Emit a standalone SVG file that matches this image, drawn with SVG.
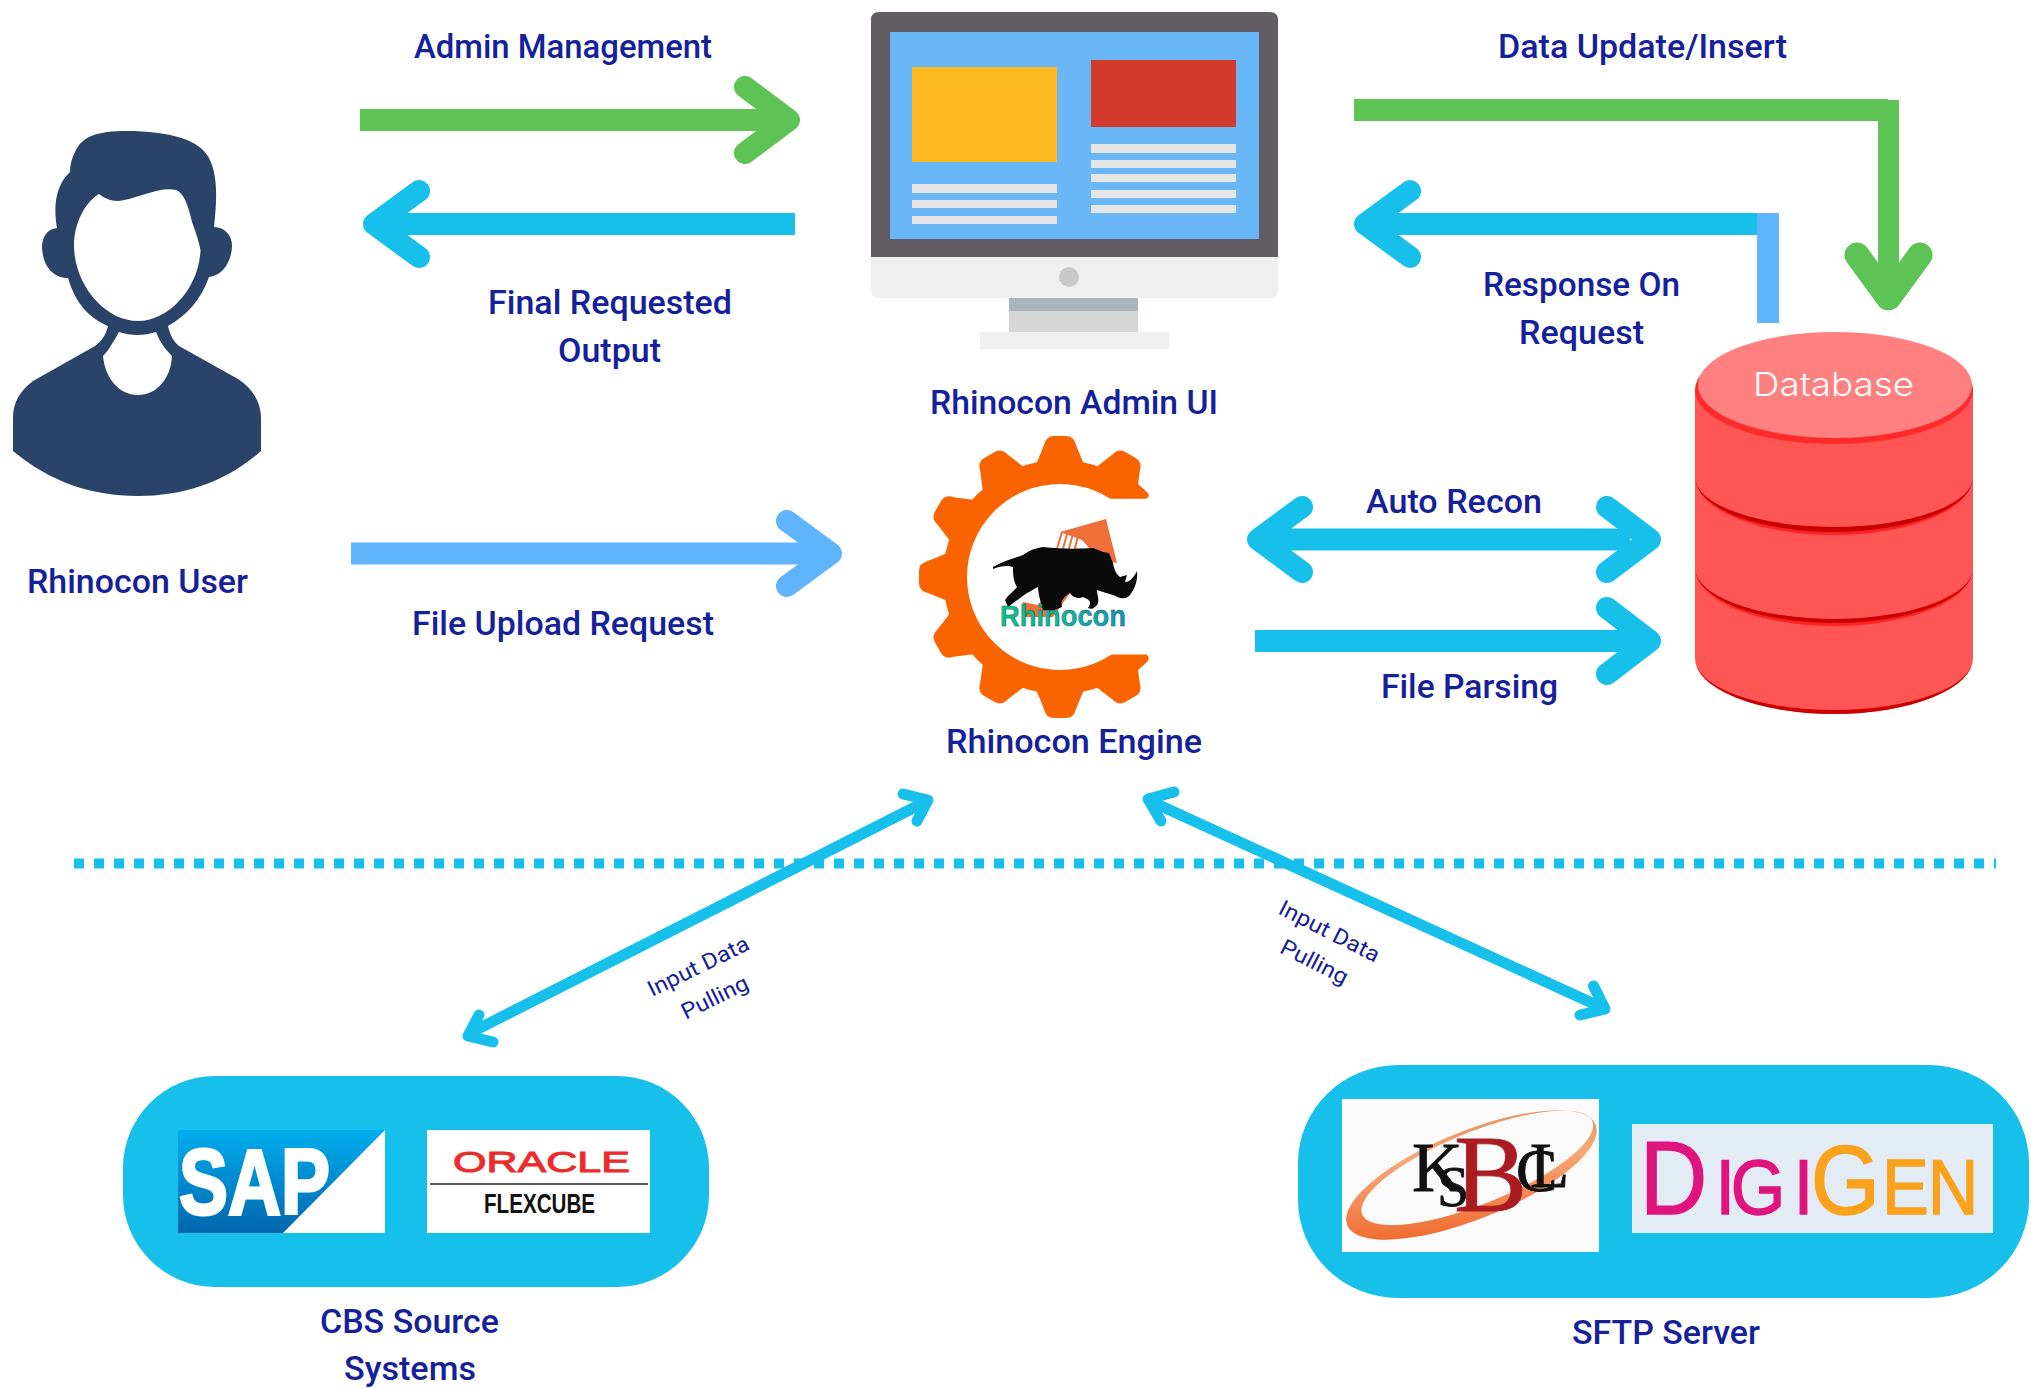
<svg xmlns="http://www.w3.org/2000/svg" width="2031" height="1388" viewBox="0 0 2031 1388">
<style>
.lbl{font-family:"Roboto","Liberation Sans",sans-serif;font-weight:500;font-size:33px;fill:#14219a;transform:translateY(1px)}
.sm{font-family:"Roboto","Liberation Sans",sans-serif;font-size:22px;fill:#14219a;text-anchor:middle}
.s{fill:none;stroke-linecap:butt}
.h{fill:none;stroke-linecap:round;stroke-linejoin:round}
.g{stroke:#5ec355}.c{stroke:#16c0ea}.b{stroke:#5fb4fb}
.w22{stroke-width:22}.w11{stroke-width:11}
.bar{fill:#e6e6e6}
.pill{fill:#16c0ea}
.gear{fill:#f96400}
</style>
<defs>
<path id="tooth" class="gear" d="M-25,-110 L-16,-132 Q-14,-141 -6,-141 L6,-141 Q14,-141 16,-132 L25,-110 Z"/>
<linearGradient id="sapG" x1="0" y1="0" x2="0" y2="1"><stop offset="0" stop-color="#00aeef"/><stop offset="1" stop-color="#0066ad"/></linearGradient>
<linearGradient id="rhG" x1="0" y1="0" x2="1" y2="0"><stop offset="0" stop-color="#09c285"/><stop offset="0.55" stop-color="#0bb6a0"/><stop offset="1" stop-color="#1193c4"/></linearGradient>
<linearGradient id="swG" x1="0" y1="1" x2="1" y2="0"><stop offset="0" stop-color="#ee5a1a"/><stop offset="0.6" stop-color="#f6a878"/><stop offset="1" stop-color="#d98a55"/></linearGradient>
<clipPath id="gearClip"><rect x="900" y="420" width="249" height="320"/></clipPath>
</defs>

<g id="user">
<path fill="#2a4369" fill-rule="evenodd" d="M126,131 C98,131 82,136 75,152 C72,158 70,164 70,172 C56,185 53,205 57,228 C46,229 42,238 42,248 C43,265 52,278 68,278 C76,305 90,318 108,326 C106,335 101,342 95,346 L33,381 C20,391 13,402 13,418 L13,451 C50,482 92,496 138,496 C184,496 226,482 261,451 L261,418 C261,402 252,388 238,379 L179,346 C174,342 170,335 168,326 C186,316 201,300 209,277 C222,276 232,262 232,245 C232,236 225,227 214,227 C217,200 218,175 209,158 C200,140 170,131 126,131 Z
M99,194 C108,201 116,202 124,200 C140,197 162,186 176,190 C184,193 188,205 192,222 C197,236 200,245 200.5,251 C198,290 168,321 138,321 C105,321 74,285 74,245 C74,225 84,203 99,194 Z
M119,332 C113,342 109,350 103,356 C105,378 119,395 138,395 C157,395 171,378 172,356 C165,349 160,342 156,332 C143,336 131,336 119,332 Z"/>
<text class="lbl" x="27" y="592" textLength="221" lengthAdjust="spacingAndGlyphs">Rhinocon User</text>
</g>

<g id="admin-ui">
<path fill="#625d63" d="M871,257 V20 Q871,12 879,12 H1270 Q1278,12 1278,20 V257 Z"/>
<rect x="890" y="32" width="369" height="207" fill="#69b7f7"/>
<rect x="912" y="67" width="145" height="95" fill="#fdba21"/>
<rect x="1091" y="60" width="145" height="67" fill="#d33a2c"/>
<rect class="bar" x="912" y="184" width="145" height="9"/>
<rect class="bar" x="912" y="200" width="145" height="8"/>
<rect class="bar" x="912" y="216" width="145" height="8"/>
<rect class="bar" x="1091" y="144" width="145" height="9"/>
<rect class="bar" x="1091" y="160" width="145" height="8"/>
<rect class="bar" x="1091" y="174" width="145" height="8"/>
<rect class="bar" x="1091" y="190" width="145" height="8"/>
<rect class="bar" x="1091" y="205" width="145" height="8"/>
<path fill="#efefef" d="M871,257 H1278 V290 Q1278,298 1270,298 H879 Q871,298 871,290 Z"/>
<ellipse cx="1069" cy="277" rx="10" ry="10" fill="#c8c8c8"/>
<rect x="1009" y="298" width="129" height="13" fill="#a7b5bc"/>
<rect x="1009" y="311" width="129" height="21" fill="#d6d6d6"/>
<rect x="980" y="332" width="189" height="17" fill="#efefef"/>
<text class="lbl" x="930" y="413" textLength="288" lengthAdjust="spacingAndGlyphs">Rhinocon Admin UI</text>
</g>

<g id="engine">
<g clip-path="url(#gearClip)">
<circle cx="1060" cy="577" r="105" fill="none" stroke="#f96400" stroke-width="24"/>
<use href="#tooth" transform="translate(1060,577) rotate(0)"/>
<use href="#tooth" transform="translate(1060,577) rotate(30)"/>
<use href="#tooth" transform="translate(1060,577) rotate(-30)"/>
<use href="#tooth" transform="translate(1060,577) rotate(-60)"/>
<use href="#tooth" transform="translate(1060,577) rotate(-90)"/>
<use href="#tooth" transform="translate(1060,577) rotate(-120)"/>
<use href="#tooth" transform="translate(1060,577) rotate(-150)"/>
<use href="#tooth" transform="translate(1060,577) rotate(180)"/>
<use href="#tooth" transform="translate(1060,577) rotate(150)"/>
<rect x="1110" y="498.500" width="60" height="156" fill="#fff"/>
<path class="gear" d="M1130,480 L1137,483 L1148,493 Q1150,498 1146,498.500 H1110 Z"/>
<path class="gear" d="M1130,674 L1137,671 L1148,661 Q1150,656 1146,655 H1110 Z"/>
</g>
<path fill="#ef6f3a" d="M1060,532 L1106,519 L1117,563 L1100,560 L1082,540 Z"/>
<path fill="#ef6f3a" d="M1047,593 L1070,593 L1053,617 L1023,617 L1023,602 L1038,605 Z"/>
<g stroke="#ef6f3a" stroke-width="2"><path d="M1056,552 L1062,532 M1062,552 L1068,531 M1068,552 L1074,530 M1074,552 L1080,528"/></g>
<path fill="#0a0a0a" d="M993,567 C1003,561 1015,558 1023,555 C1030,550 1036,548 1043,547 C1060,549 1078,549 1093,548 L1103,552 L1109,553 L1113,563 C1114,570 1117,575 1120,577 L1127,575 L1125,582 C1130,582 1134,577 1137,571 C1138,580 1135,590 1128,597 C1122,600 1118,597 1113,595 C1107,593 1102,592 1097,590 C1097,596 1100,600 1097,605 C1093,610 1090,609 1088,608 C1092,602 1090,600 1083,597 C1078,600 1071,596 1070,593 C1065,596 1060,600 1062,607 C1055,610 1050,612 1043,610 C1040,600 1038,592 1038,587 C1033,589 1030,592 1027,593 C1020,598 1013,603 1008,607 L1005,600 C1008,595 1013,592 1017,587 C1013,580 1013,574 1013,567 C1008,565 1000,566 993,569 Z"/>
<text x="1000" y="626" font-family="Liberation Sans, Arial, sans-serif" font-weight="700" font-size="29" fill="url(#rhG)" stroke="#1f4a4a" stroke-width="0.4" textLength="126" lengthAdjust="spacingAndGlyphs">Rhinocon</text>
<text class="lbl" x="946" y="752" textLength="256" lengthAdjust="spacingAndGlyphs">Rhinocon Engine</text>
</g>

<g id="database">
<path fill="#ff5555" d="M1695,388 V658 A139,56 0 0 0 1973,658 V388 Z"/>
<path fill="#cc0000" d="M1695,658 A139,56 0 0 0 1973,658 A139,52 0 0 1 1695,658 Z"/>
<path fill="#ff2020" d="M1695,477 A139,58 0 0 0 1973,477 A139,50 0 0 1 1695,477 Z"/>
<path fill="#c80000" d="M1695,477 A139,55 0 0 0 1973,477 A139,50 0 0 1 1695,477 Z"/>
<path fill="#ff2020" d="M1695,568 A139,58 0 0 0 1973,568 A139,51 0 0 1 1695,568 Z"/>
<path fill="#c80000" d="M1695,568 A139,55 0 0 0 1973,568 A139,51 0 0 1 1695,568 Z"/>
<ellipse cx="1834" cy="390" rx="139" ry="54" fill="#ff2a2a"/>
<ellipse cx="1835" cy="385" rx="137" ry="53" fill="#ff8080"/>
<text x="1753" y="396" font-family="Inter, Open Sans, sans-serif" font-weight="300" font-size="32" fill="#fff" textLength="161" lengthAdjust="spacingAndGlyphs">Database</text>
</g>

<g id="cbs-source">
<rect class="pill" x="123" y="1076" width="586" height="211" rx="92" ry="92"/>
<rect x="178" y="1130" width="207" height="103" fill="url(#sapG)"/>
<path fill="#fff" d="M385,1130 L283,1233 H385 Z"/>
<text x="179" y="1214" font-family="Liberation Sans, Arial, sans-serif" font-weight="700" font-size="92" fill="#fff" stroke="#fff" stroke-width="3" textLength="151" lengthAdjust="spacingAndGlyphs">SAP</text>
<rect x="427" y="1130" width="223" height="103" fill="#fff"/>
<text x="453" y="1172" font-family="Liberation Sans, Arial, sans-serif" font-size="30" fill="#ee2b2b" stroke="#ee2b2b" stroke-width="1" textLength="177" lengthAdjust="spacingAndGlyphs">ORACLE</text>
<path d="M430,1184 H648" stroke="#555" stroke-width="2"/>
<text x="484" y="1213" font-family="Liberation Sans, Arial, sans-serif" font-weight="700" font-size="27" fill="#111" textLength="111" lengthAdjust="spacingAndGlyphs">FLEXCUBE</text>
<text class="lbl" x="320" y="1332" textLength="179" lengthAdjust="spacingAndGlyphs">CBS Source</text>
<text class="lbl" x="344" y="1379" textLength="132" lengthAdjust="spacingAndGlyphs">Systems</text>
</g>

<g id="sftp-server">
<rect class="pill" x="1298" y="1065" width="731" height="233" rx="100" ry="98"/>
<rect x="1342" y="1099" width="257" height="153" fill="#fafafa"/>
<g transform="translate(1471.500,1175) rotate(-22)">
<path fill="url(#swG)" fill-rule="evenodd" d="M-134,0 A134,44 0 1 0 134,0 A134,44 0 1 0 -134,0 Z M-116,-6 A124,36 0 1 1 132,-3 A124,36 0 1 1 -116,-6 Z"/>
</g>
<text font-family="Liberation Serif, Times New Roman, serif" font-size="70" fill="#111" stroke="#111" stroke-width="0.8"><tspan x="1412" y="1191">K</tspan><tspan x="1437" y="1206" font-size="58">S</tspan><tspan x="1454" y="1211" font-size="110" fill="#a81c22" stroke="#a81c22">B</tspan><tspan x="1516" y="1191" font-size="62">C</tspan><tspan x="1530" y="1187" font-size="64">L</tspan></text>
<rect x="1632" y="1124" width="361" height="109" fill="#e3ebf5"/>
<text transform="scale(0.9,1)" font-family="Liberation Sans, Arial, sans-serif" font-size="78" fill="#e0147f" stroke="#e0147f" stroke-width="1.4"><tspan x="1822" y="1214" font-size="104">D</tspan><tspan x="1906 1923 1993" y="1214">IGI</tspan><tspan x="2012" y="1214" font-size="99" fill="#faa21b" stroke="#faa21b">G</tspan><tspan x="2091 2142" y="1214" fill="#faa21b" stroke="#faa21b">EN</tspan></text>
<text class="lbl" x="1572" y="1343" textLength="188" lengthAdjust="spacingAndGlyphs">SFTP Server</text>
</g>

<g id="connectors">
<path d="M74,863.500 H1996" fill="none" stroke="#16c0ea" stroke-width="10" stroke-dasharray="10 10"/>
<path class="s g w22" d="M360,120 H780"/><path class="h g w22" d="M745,87 L789,120 L745,153"/>
<path class="s c w22" d="M795,224 H385"/><path class="h c w22" d="M419,191 L374,224 L419,257"/>
<path class="s b w22" d="M351,553.500 H820"/><path class="h b w22" d="M787,521 L831,553.500 L787,586"/>
<path class="s g w22" d="M1354,110 H1888"/><path class="s g" stroke-width="21" d="M1888.500,100 V290"/><path class="h g" stroke-width="25" d="M1857,255 L1888.500,298 L1920,255"/>
<path class="s c w22" d="M1757,224 H1380"/><path class="h c w22" d="M1410,191 L1365,224 L1410,257"/>
<path class="s b w22" d="M1768,213 V323"/>
<path class="s c w22" d="M1270,539.500 H1630"/><path class="h c w22" d="M1302,507 L1258,539.500 L1302,572"/><path class="h c w22" d="M1607,507 L1650,539.500 L1607,572"/>
<path class="s c w22" d="M1255,641 H1636"/><path class="h c w22" d="M1607,608 L1650,641 L1607,674"/>
<path class="s c w11" d="M470,1033 L925,802"/><path class="h c w11" d="M903,794 L928,800 L917,821"/><path class="h c w11" d="M479,1015 L468,1036 L493,1042"/>
<path class="s c w11" d="M1150,801 L1603,1008"/><path class="h c w11" d="M1174,792 L1148,799 L1161,821"/><path class="h c w11" d="M1593.500,986 L1605,1009 L1580,1015"/>
</g>

<g id="labels">
<text class="lbl" x="414" y="57" textLength="298" lengthAdjust="spacingAndGlyphs">Admin Management</text>
<text class="lbl" x="488" y="313" textLength="244" lengthAdjust="spacingAndGlyphs">Final Requested</text>
<text class="lbl" x="558" y="361" textLength="103" lengthAdjust="spacingAndGlyphs">Output</text>
<text class="lbl" x="412" y="634" textLength="302" lengthAdjust="spacingAndGlyphs">File Upload Request</text>
<text class="lbl" x="1498" y="57" textLength="289" lengthAdjust="spacingAndGlyphs">Data Update/Insert</text>
<text class="lbl" x="1483" y="295" textLength="197" lengthAdjust="spacingAndGlyphs">Response On</text>
<text class="lbl" x="1519" y="343" textLength="125" lengthAdjust="spacingAndGlyphs">Request</text>
<text class="lbl" x="1366" y="512" textLength="176" lengthAdjust="spacingAndGlyphs">Auto Recon</text>
<text class="lbl" x="1381" y="697" textLength="177" lengthAdjust="spacingAndGlyphs">File Parsing</text>
<text class="sm" transform="translate(701.500,973) rotate(-26)" textLength="110" lengthAdjust="spacingAndGlyphs">Input Data</text>
<text class="sm" transform="translate(718,1004) rotate(-26)" textLength="72" lengthAdjust="spacingAndGlyphs">Pulling</text>
<text class="sm" transform="translate(1326,938) rotate(27)" textLength="110" lengthAdjust="spacingAndGlyphs">Input Data</text>
<text class="sm" transform="translate(1311,968.500) rotate(27)" textLength="73" lengthAdjust="spacingAndGlyphs">Pulling</text>
</g>
</svg>
